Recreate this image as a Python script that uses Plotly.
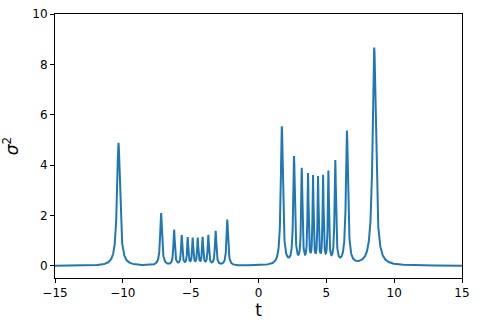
import numpy as np
import plotly.graph_objects as go

# peak positions / heights / half-widths
peak_t = [-10.32, -7.18, -6.22, -5.66, -5.22, -4.85, -4.48, -4.12, -3.70, -3.16, -2.30,
          1.72, 2.62, 3.19, 3.65, 4.02, 4.39, 4.76, 5.15, 5.66, 6.52, 8.53]
peak_h = [4.88, 2.08, 1.40, 1.18, 1.08, 1.06, 1.06, 1.09, 1.18, 1.36, 1.82,
          5.50, 4.25, 3.75, 3.52, 3.42, 3.40, 3.45, 3.63, 4.08, 5.30, 8.65]
peak_w = [0.13, 0.08, 0.06, 0.055, 0.05, 0.05, 0.05, 0.05, 0.055, 0.06, 0.07,
          0.09, 0.07, 0.055, 0.048, 0.045, 0.045, 0.045, 0.048, 0.06, 0.09, 0.14]

t = np.linspace(-15, 15, 4001)
sigma2 = np.zeros_like(t)
for c, h, w in zip(peak_t, peak_h, peak_w):
    sigma2 += h * w**2 / ((t - c)**2 + w**2)

fig = go.Figure(go.Scatter(x=t, y=sigma2, mode="lines",
                           line=dict(color="#1f77b4", width=2)))

axis = dict(showline=True, linecolor="black", linewidth=1, mirror=True,
            ticks="outside", ticklen=4, tickcolor="black", showgrid=False,
            zeroline=False, automargin=False, tickfont=dict(size=12, color="black"))
fig.update_layout(
    width=479, height=329,
    margin=dict(l=55, r=17, t=14, b=51),
    paper_bgcolor="white", plot_bgcolor="white",
    font=dict(family="DejaVu Sans", color="black"),
    showlegend=False,
)
fig.update_xaxes(**axis, range=[-15, 15], tickvals=[-15, -10, -5, 0, 5, 10, 15],
                 ticktext=["\u221215", "\u221210", "\u22125", "0", "5", "10", "15"],
                 title=dict(text="t", font=dict(size=17), standoff=4))
fig.update_yaxes(**axis, range=[-0.48, 10], tickvals=[0, 2, 4, 6, 8, 10],
                 title=dict(text="<i>σ</i><sup>2</sup>", font=dict(size=17), standoff=10))
fig.write_html("out.html", config={"displayModeBar": False},
               post_script="document.body.style.margin='0';")
